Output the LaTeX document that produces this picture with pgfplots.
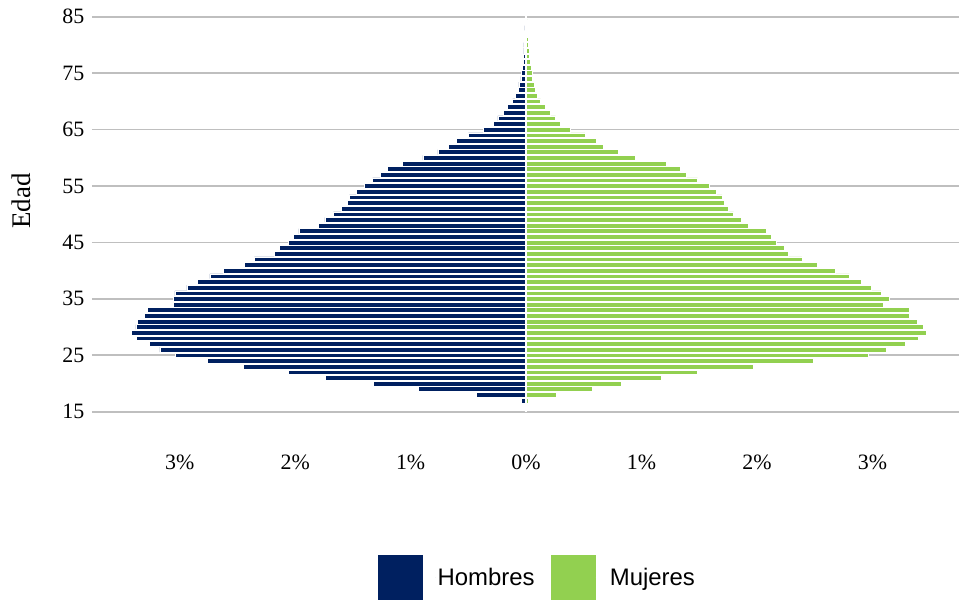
\documentclass[border=0pt]{standalone}
\usepackage{pgfplots}
\pgfplotsset{compat=1.18}
\usepackage{fontspec}
\setmainfont{Liberation Serif}
\newfontfamily\arialfont{Liberation Sans}
\definecolor{hombres}{RGB}{0,32,96}
\definecolor{mujeres}{RGB}{146,208,80}
\definecolor{gridgray}{RGB}{191,191,191}

% edad, porcentaje (hombres negativos)
\pgfplotstableread{
edad hom muj
85 -0.004 0.004
84 -0.005 0.013
83 -0.010 0.013
82 -0.013 0.013
81 -0.015 0.016
80 -0.020 0.022
79 -0.020 0.025
78 -0.025 0.030
77 -0.025 0.036
76 -0.033 0.042
75 -0.040 0.050
74 -0.045 0.056
73 -0.062 0.074
72 -0.068 0.082
71 -0.090 0.100
70 -0.117 0.126
69 -0.163 0.169
68 -0.198 0.209
67 -0.244 0.255
66 -0.281 0.296
65 -0.368 0.385
64 -0.500 0.509
63 -0.605 0.608
62 -0.671 0.671
61 -0.764 0.795
60 -0.893 0.948
59 -1.069 1.211
58 -1.202 1.335
57 -1.260 1.384
56 -1.329 1.485
55 -1.398 1.586
54 -1.473 1.649
53 -1.531 1.699
52 -1.551 1.719
51 -1.603 1.753
50 -1.669 1.797
49 -1.742 1.860
48 -1.797 1.924
47 -1.967 2.082
46 -2.016 2.126
45 -2.059 2.169
44 -2.134 2.232
43 -2.183 2.273
42 -2.353 2.388
41 -2.437 2.521
40 -2.619 2.674
39 -2.740 2.801
38 -2.850 2.902
37 -2.939 2.986
36 -3.043 3.075
35 -3.052 3.147
34 -3.052 3.095
33 -3.283 3.320
32 -3.306 3.320
31 -3.370 3.390
30 -3.381 3.444
29 -3.416 3.468
28 -3.378 3.395
27 -3.260 3.286
26 -3.171 3.121
25 -3.035 2.960
24 -2.758 2.489
23 -2.446 1.970
22 -2.062 1.482
21 -1.739 1.170
20 -1.320 0.827
19 -0.931 0.573
18 -0.431 0.258
17 -0.039 0.019
}\piramide

\begin{document}
\begin{tikzpicture}
\useasboundingbox (-92bp,-188.3bp) rectangle (867bp,411.7bp);
\begin{axis}[
  scale only axis,
  width=867bp, height=395bp,
  xmin=-3.76, xmax=3.75,
  ymin=15, ymax=85,
  xbar, bar shift=0pt, bar width=0.85,
  axis line style={draw=none},
  tick style={draw=none},
  ymajorgrids,
  grid style={gridgray, line width=1.6bp},
  ytick={15,25,...,85},
  xtick={-3,-2,-1,0,1,2,3},
  xticklabels={3\%,2\%,1\%,0\%,1\%,2\%,3\%},
  /pgf/number format/assume math mode=true,
  tick label style={font=\fontsize{22}{24}\selectfont},
  xticklabel style={yshift=-40bp},
  ylabel={Edad},
  ylabel style={at={(axis description cs:-0.081,0.533)}, anchor=center, font=\fontsize{27}{30}\selectfont},
  legend style={at={(axis description cs:0.514,-0.42)}, anchor=center, draw=none,
    font=\arialfont\fontsize{24}{26}\selectfont, legend columns=2,
    /tikz/every even column/.append style={column sep=14bp}},
  legend image code/.code={\fill[#1,draw=none] (0bp,-22.5bp) rectangle (45bp,22.5bp);
    \path (45bp,0bp) -- (57bp,0bp);},
]
\addplot[fill=hombres, draw=white, line width=0.5bp] table[x=hom, y=edad] {\piramide};
\addplot[fill=mujeres, draw=white, line width=0.5bp] table[x=muj, y=edad] {\piramide};
\legend{Hombres, Mujeres}
\addplot[xbar=0pt, draw=white, line width=1.2bp, forget plot, sharp plot] coordinates {(0,15) (0,85)};
\end{axis}
\end{tikzpicture}
\end{document}
